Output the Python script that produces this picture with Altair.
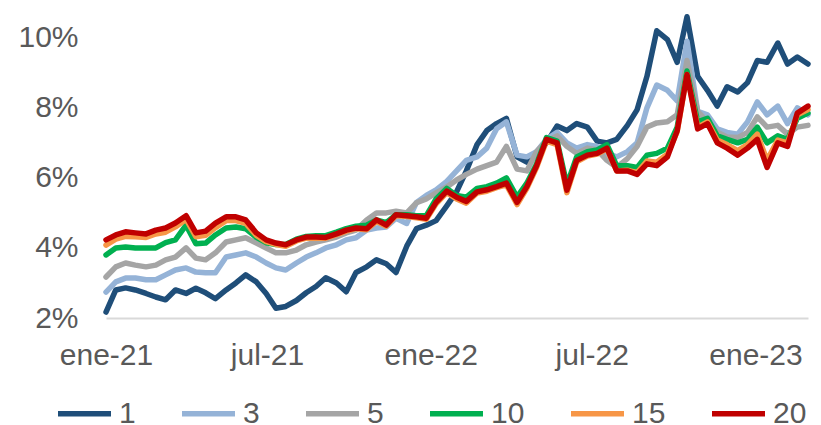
import altair as alt
import pandas as pd

# 71 observation dates, Jan-2021 .. Mar-2023
fechas = pd.date_range("2021-01-01", "2023-03-01", periods=71).strftime("%Y-%m-%d").tolist()

plazos = ["1", "3", "5", "10", "15", "20"]
colores = ["#1F4E79", "#95B3D7", "#A5A5A5", "#00B050", "#F79646", "#C00000"]

t1 = [2.17, 2.80, 2.86, 2.80, 2.70, 2.60, 2.52, 2.80, 2.70, 2.85,
      2.72, 2.55, 2.80, 3.00, 3.23, 3.03, 2.70, 2.28, 2.33, 2.50,
      2.72, 2.90, 3.15, 3.00, 2.75, 3.30, 3.46, 3.66, 3.55, 3.30,
      4.05, 4.55, 4.65, 4.78, 5.20, 5.60, 6.20, 6.95, 7.35, 7.55,
      7.70, 6.60, 6.45, 6.65, 7.00, 7.48, 7.35, 7.55, 7.45, 7.05,
      7.00, 7.10, 7.50, 7.95, 8.90, 10.20, 9.95, 9.30, 10.60, 8.90,
      8.50, 8.05, 8.60, 8.45, 8.72, 9.35, 9.30, 9.85, 9.25, 9.45, 9.25]

t3 = [2.74, 3.03, 3.14, 3.14, 3.09, 3.09, 3.23, 3.37, 3.43, 3.31,
      3.29, 3.29, 3.74, 3.80, 3.86, 3.74, 3.57, 3.43, 3.37, 3.57,
      3.74, 3.86, 4.00, 4.09, 4.23, 4.29, 4.51, 4.57, 4.60, 4.85,
      4.70, 5.30, 5.50, 5.66, 5.90, 6.20, 6.50, 6.60, 6.85, 7.40,
      7.60, 6.65, 6.60, 6.75, 7.10, 7.30, 7.00, 6.85, 6.95, 6.90,
      6.70, 6.60, 6.75, 7.00, 8.00, 8.65, 8.50, 8.20, 9.90, 7.90,
      7.80, 7.40, 7.30, 7.25, 7.60, 8.17, 7.80, 8.05, 7.55, 8.00, 7.80]

t5 = [3.17, 3.46, 3.57, 3.51, 3.46, 3.51, 3.66, 3.74, 4.00, 3.71,
      3.66, 3.86, 4.17, 4.23, 4.29, 4.14, 4.00, 3.86, 3.86, 3.94,
      4.09, 4.17, 4.23, 4.31, 4.43, 4.51, 4.80, 5.00, 5.00, 5.05,
      5.00, 5.29, 5.40, 5.57, 5.74, 5.94, 6.10, 6.25, 6.35, 6.45,
      6.90, 6.25, 6.20, 6.75, 7.05, 7.20, 6.90, 6.70, 6.85, 6.80,
      6.50, 6.30, 6.55, 6.90, 7.45, 7.57, 7.60, 7.80, 9.35, 7.90,
      7.60, 7.30, 7.17, 7.15, 7.30, 7.74, 7.45, 7.50, 7.25, 7.45, 7.50]

t10 = [3.80, 4.00, 4.03, 4.00, 4.00, 4.00, 4.15, 4.23, 4.65, 4.12,
       4.14, 4.37, 4.57, 4.60, 4.55, 4.30, 4.15, 4.10, 4.10, 4.25,
       4.33, 4.35, 4.35, 4.45, 4.55, 4.62, 4.65, 4.80, 4.72, 4.95,
       4.95, 4.92, 4.92, 5.40, 5.70, 5.50, 5.45, 5.70, 5.75, 5.85,
       6.00, 5.45, 5.85, 6.40, 7.15, 7.05, 5.80, 6.60, 6.75, 6.80,
       6.95, 6.35, 6.35, 6.30, 6.65, 6.70, 6.85, 7.45, 9.05, 7.60,
       7.70, 7.20, 7.10, 7.00, 7.10, 7.45, 7.00, 7.20, 7.10, 7.70, 7.85]

t15 = [4.08, 4.25, 4.33, 4.32, 4.30, 4.40, 4.45, 4.60, 4.82, 4.32,
       4.36, 4.58, 4.78, 4.78, 4.70, 4.36, 4.18, 4.10, 4.05, 4.20,
       4.28, 4.28, 4.28, 4.38, 4.48, 4.55, 4.52, 4.76, 4.62, 4.92,
       4.90, 4.86, 4.82, 5.26, 5.58, 5.40, 5.28, 5.57, 5.62, 5.72,
       5.80, 5.24, 5.70, 6.30, 7.05, 6.95, 5.58, 6.46, 6.62, 6.68,
       6.82, 6.20, 6.22, 6.15, 6.48, 6.45, 6.68, 7.32, 8.95, 7.45,
       7.60, 7.08, 6.95, 6.78, 6.95, 7.25, 6.50, 7.08, 7.00, 7.80, 7.95]

t20 = [4.23, 4.37, 4.46, 4.43, 4.40, 4.51, 4.57, 4.71, 4.92, 4.43,
       4.48, 4.71, 4.89, 4.89, 4.80, 4.43, 4.23, 4.14, 4.09, 4.23,
       4.31, 4.31, 4.30, 4.40, 4.51, 4.57, 4.55, 4.80, 4.65, 4.95,
       4.92, 4.89, 4.85, 5.30, 5.62, 5.45, 5.33, 5.60, 5.66, 5.75,
       5.85, 5.30, 5.75, 6.35, 7.10, 7.00, 5.65, 6.50, 6.65, 6.70,
       6.85, 6.20, 6.20, 6.10, 6.40, 6.35, 6.60, 7.35, 8.95, 7.40,
       7.55, 7.00, 6.85, 6.65, 6.85, 7.10, 6.30, 7.00, 6.90, 7.85, 8.05]

series = [t1, t3, t5, t10, t15, t20]
rows = []
for p, vals in zip(plazos, series):
    for f, v in zip(fechas, vals):
        rows.append({"fecha": f, "plazo": p, "tasa": v / 100.0})
df = pd.DataFrame(rows)

FONT = "Liberation Sans"
GRIS = "#595959"

x_ticks = [alt.DateTime(year=2021, month=1, date=1, utc=True),
           alt.DateTime(year=2021, month=7, date=1, utc=True),
           alt.DateTime(year=2022, month=1, date=1, utc=True),
           alt.DateTime(year=2022, month=7, date=1, utc=True),
           alt.DateTime(year=2023, month=1, date=1, utc=True)]

chart = alt.Chart(df).mark_line(
    strokeWidth=5.5, strokeJoin="round", strokeCap="round"
).encode(
    x=alt.X("fecha:T",
            scale=alt.Scale(domain=[alt.DateTime(year=2021, month=1, date=1, utc=True),
                                    alt.DateTime(year=2023, month=3, date=1, utc=True)]),
            axis=alt.Axis(values=x_ticks,
                          labelExpr="(utcmonth(datum.value) == 0 ? 'ene-' : 'jul-') + utcFormat(datum.value, '%y')",
                          title=None, grid=False, ticks=False, tickSize=0,
                          domainColor="#D9D9D9", domainWidth=2,
                          labelPadding=22, labelFontSize=30, labelColor=GRIS,
                          labelFont=FONT, labelFlush=False, labelOverlap=False)),
    y=alt.Y("tasa:Q",
            scale=alt.Scale(domain=[0.02, 0.1085], nice=False, zero=False),
            axis=alt.Axis(values=[0.02, 0.04, 0.06, 0.08, 0.10], format=".0%",
                          title=None, grid=False, ticks=False, tickSize=0, domain=False,
                          labelPadding=28, labelFontSize=30, labelColor=GRIS,
                          labelFont=FONT)),
    color=alt.Color("plazo:N", sort=plazos,
                    scale=alt.Scale(domain=plazos, range=colores),
                    legend=alt.Legend(orient="none", legendX=-51, legendY=376,
                                      direction="horizontal", title=None,
                                      symbolType="stroke", symbolSize=2809,
                                      symbolStrokeWidth=5.5, labelOffset=5,
                                      columnPadding=35, labelFontSize=30,
                                      labelColor=GRIS, labelFont=FONT)),
).properties(
    width=702, height=310,
    autosize=alt.AutoSizeParams(type="none"),
    padding={"left": 98, "top": 0, "right": 5, "bottom": 107},
).configure_view(stroke=None)

chart.save("out.html", embed_options={"renderer": "svg", "actions": False})
